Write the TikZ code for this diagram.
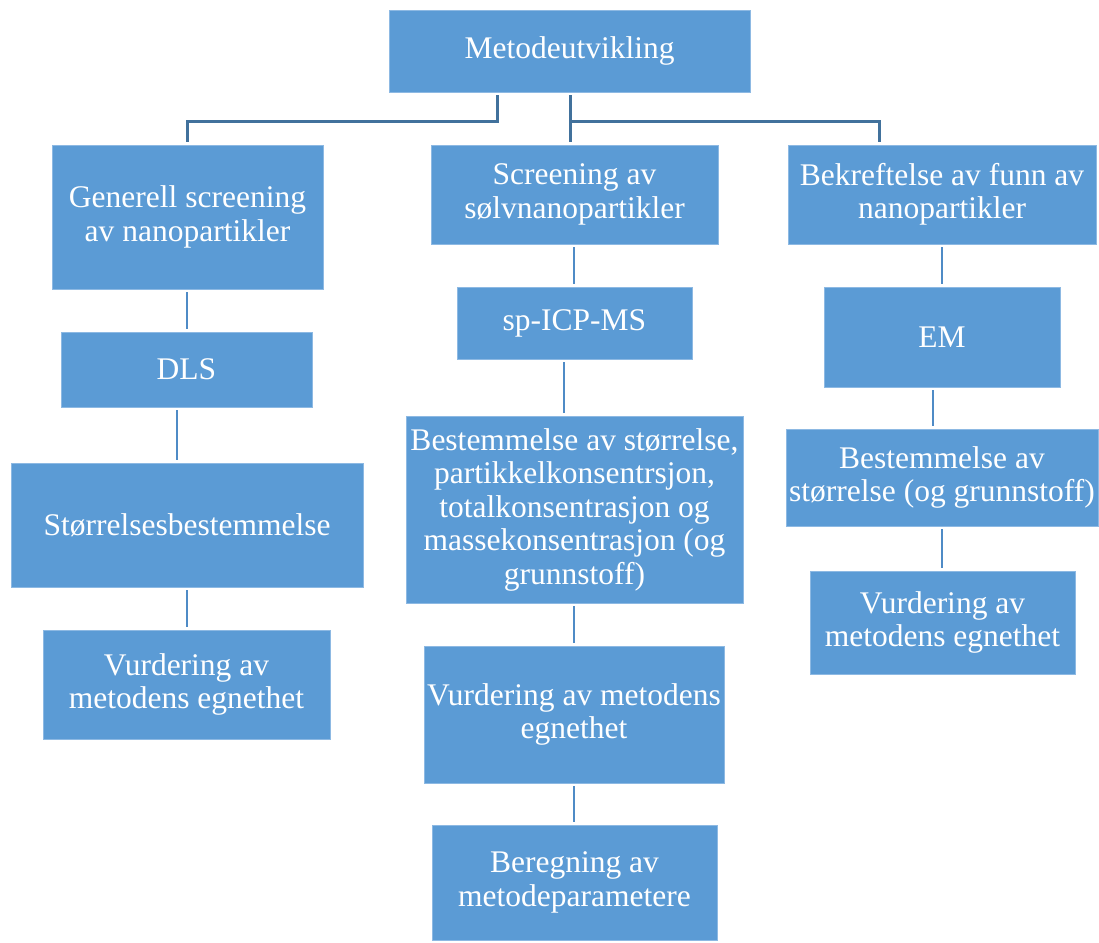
\documentclass[tikz,border=0pt]{standalone}
\usepackage{fontspec}
\setmainfont{Liberation Serif}
\definecolor{boxblue}{HTML}{5B9BD5}
\definecolor{boxedge}{HTML}{8DB9E3}
\definecolor{trunkblue}{HTML}{41719C}
\definecolor{linkblue}{HTML}{4F8BC6}
\tikzset{
  box/.style 2 args={fill=boxblue, draw=boxedge, line width=0.8pt, text=white,
    align=center, inner sep=0pt, minimum width=#1, minimum height=#2,
    font=\fontsize{31.5}{33.5}\selectfont},
  link/.style={draw=linkblue, line width=2.6pt, shorten <=3pt, shorten >=3pt},
  trunk/.style={link, draw=trunkblue, line width=3pt}
}
\begin{document}
\begin{tikzpicture}[x=1pt,y=-1pt]
            \useasboundingbox (0,0) rectangle (1099,942);
            \node [box={361}{82}] (top) at (569.5,51) {Metodeutvikling};
            \node [box={271}{144}] (gen) at (187.5,217) {Generell screening\\av nanopartikler};
            \node [box={287}{99}] (silver) at (574.5,194.5) {Screening av\\sølvnanopartikler};
            \node [box={308}{99}] (confirm) at (942,194.5) {Bekreftelse av funn av\\nanopartikler};
            % venstre kolonne
            \node [box={251}{75}] (dls) at (186.5,369.5) {DLS};
            \node [box={352}{124}] (size) at (187,525) {Størrelsesbestemmelse};
            \node [box={287}{109}] (evalL) at (186.5,684.5) {Vurdering av\\metodens egnethet};
            % midtre kolonne
            \node [box={235}{72}] (sp) at (574.5,323) {sp-ICP-MS};
            \node [box={337}{187}] (quant) at (574.5,509.5) {Bestemmelse av størrelse,\\partikkelkonsentrsjon,\\totalkonsentrasjon og\\massekonsentrasjon (og\\grunnstoff)};
            \node [box={300}{137}] (evalM) at (574,714.5) {Vurdering av metodens\\egnethet};
            \node [box={285}{115}] (calc) at (574.5,882.5) {Beregning av\\metodeparametere};
            % hoyre kolonne
            \node [box={236}{100}] (em) at (942,337) {EM};
            \node [box={312}{97}] (emsize) at (942,477.5) {Bestemmelse av\\størrelse (og grunnstoff)};
            \node [box={265}{103}] (evalR) at (942.5,622.5) {Vurdering av\\metodens egnethet};
            \coordinate (bus) at (0,121);
            \draw [trunk] (top.south -| 497,0) |- (bus -| gen.north) -- (gen.north);
            \draw [trunk] (top.south -| 570,0) -- (silver.north -| 570,0);
            \draw [trunk, shorten <=0pt] (bus -| 570,0) -| (confirm.north -| 879,0);
            \draw [link] (gen.south -| 187,0) -- (dls.north -| 187,0);
            \draw [link] (dls.south -| 177,0) -- (size.north -| 177,0);
            \draw [link] (size.south -| 187,0) -- (evalL.north -| 187,0);
            \draw [link] (silver.south -| 574,0) -- (sp.north -| 574,0);
            \draw [link] (sp.south -| 564,0) -- (quant.north -| 564,0);
            \draw [link] (quant.south -| 574,0) -- (evalM.north -| 574,0);
            \draw [link] (evalM.south -| 574,0) -- (calc.north -| 574,0);
            \draw [link] (confirm.south -| 942,0) -- (em.north -| 942,0);
            \draw [link] (em.south -| 933,0) -- (emsize.north -| 933,0);
            \draw [link] (emsize.south -| 942,0) -- (evalR.north -| 942,0);
        \end{tikzpicture}
\end{document}
